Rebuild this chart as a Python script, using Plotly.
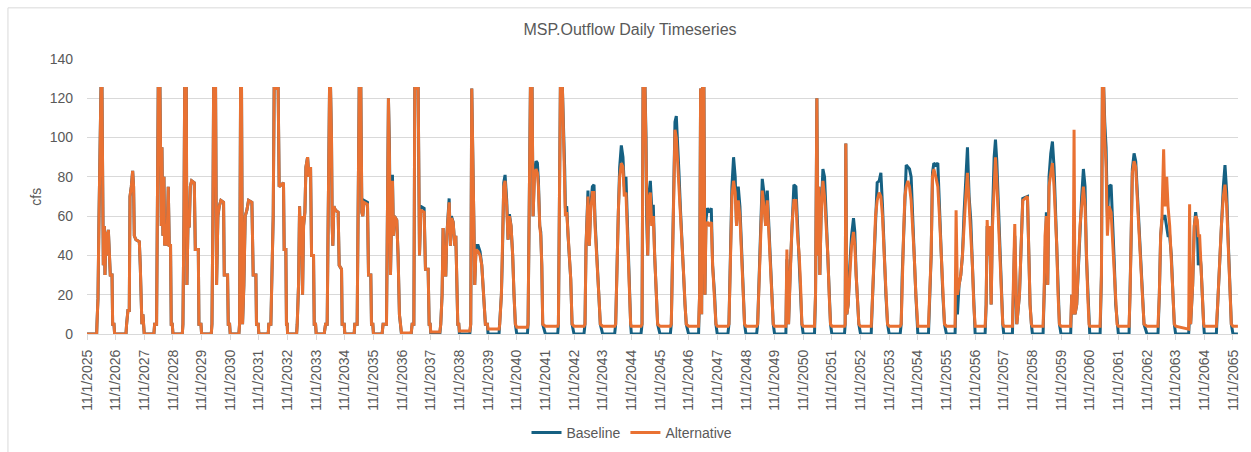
import pandas as pd
import plotly.graph_objects as go

# ---------------- text ----------------
title_text = "MSP.Outflow Daily Timeseries"
y_title = "cfs"
series_names = ["Baseline", "Alternative"]
series_colors = ["#156082", "#E97132"]

# ---------------- axes ----------------
tick_years = list(range(2025, 2066))
tick_labels = [f"11/1/{y}" for y in tick_years]
y_ticks = [0, 20, 40, 60, 80, 100, 120, 140]

# water year start (Nov 1 of this year); keypoints are days after Nov 1
water_year_start = list(range(2025, 2066))

kp_days = [
    [0, 123, 127, 140, 153, 166, 178, 191, 200, 208, 221, 229, 242, 255, 272, 285, 297, 319, 327, 344, 352],
    [0, 132, 140, 157, 174, 183, 200, 217, 229, 238, 259, 302, 314, 327, 335, 348, 357],
    [0, 123, 132, 157, 170, 178, 200, 208, 217, 225, 238, 251, 259, 276, 289, 306, 319, 335, 344, 357],
    [0, 119, 127, 140, 149, 170, 178, 191, 208, 221, 238, 272, 285, 323, 331, 357],
    [0, 123, 132, 144, 153, 178, 191, 208, 225, 246, 280, 289, 331, 340, 357],
    [0, 110, 119, 132, 144, 157, 174, 191, 212, 234, 276, 293, 327, 335, 357],
    [0, 119, 127, 153, 166, 183, 195, 246, 259, 314, 323, 344, 352, 362],
    [0, 115, 123, 140, 153, 166, 178, 191, 204, 221, 234, 255, 272, 293, 306, 331, 340, 357],
    [0, 102, 119, 140, 153, 170, 183, 195, 204, 212, 225, 246, 280, 293, 323, 331, 357],
    [0, 119, 127, 157, 170, 183, 204, 217, 229, 246, 289, 302, 331, 340, 357],
    [0, 110, 123, 166, 178, 191, 204, 217, 229, 242, 255, 268, 297, 314, 331, 340, 357],
    [0, 115, 127, 149, 161, 204, 221, 238, 280, 297, 331, 344, 357],
    [0, 115, 127, 144, 157, 170, 191, 204, 221, 234, 251, 263, 285, 306, 319, 331, 344, 357],
    [0, 132, 144, 157, 170, 183, 195, 212, 238, 263, 285, 310, 331, 357],
    [0, 140, 149, 170, 183, 200, 217, 238, 255, 272, 293, 314, 331, 348],
    [0, 136, 144, 161, 174, 195, 208, 225, 246, 263, 276, 293, 306, 319, 331],
    [0, 157, 166, 178, 191, 217, 234, 246, 255, 272, 289, 306, 323, 340],
    [0, 127, 140, 153, 166, 178, 195, 212, 234, 255, 268, 285, 302, 319, 335],
    [0, 153, 166, 183, 200, 217, 238, 259, 276, 297, 314, 331, 344, 357],
    [0, 123, 136, 149, 174, 187, 195, 208, 221, 242, 259, 280, 297, 319, 335],
    [0, 132, 144, 161, 174, 191, 208, 225, 242, 259, 280, 302, 319, 335],
    [0, 127, 140, 153, 166, 178, 195, 208, 221, 238, 263, 289, 306, 331, 348],
    [0, 136, 149, 170, 187, 208, 229, 246, 268, 289, 310, 331, 348],
    [0, 136, 149, 170, 191, 208, 229, 251, 272, 293, 314, 331, 348],
    [0, 144, 157, 178, 200, 221, 246, 272, 293, 314, 331, 348],
    [0, 144, 157, 174, 187, 200, 212, 229, 251, 272, 293, 314, 331, 348],
    [0, 161, 170, 178, 191, 208, 229, 251, 276, 293, 310, 327, 344],
    [0, 136, 149, 170, 191, 212, 238, 259, 280, 302, 323, 344],
    [0, 140, 153, 166, 183, 200, 217, 238, 259, 280, 297, 319, 340, 357],
    [0, 136, 149, 170, 187, 204, 229, 255, 276, 297, 319, 340],
    [0, 110, 123, 140, 161, 183, 204, 225, 246, 268, 289, 310, 331, 348, 361],
    [0, 127, 140, 153, 170, 187, 204, 221, 242, 259, 276, 297, 319, 335, 352],
    [0, 110, 140, 166, 200, 221, 242, 302, 319, 335, 352],
    [0, 136, 149, 161, 178, 195, 212, 234, 255, 276, 293, 310, 327, 344],
    [0, 123, 136, 153, 166, 178, 200, 221, 242, 263, 285, 306, 323, 340, 357],
    [0, 132, 149, 161, 178, 191, 208, 225, 246, 272, 293, 314, 331, 348],
    [0, 136, 149, 161, 178, 200, 221, 242, 263, 285, 306, 327],
    [0, 140, 157, 174, 191, 212, 229, 251, 268, 289, 310, 331, 348],
    [0, 166, 178, 191, 217, 238, 255, 276, 289, 306, 323, 340, 357],
    [0, 153, 170, 191, 217, 242, 263, 285, 302, 323, 344],
    [0, 63],
]

baseline_cfs = [
    [0, 0, 5, 18, 60, 100, 125, 125, 55, 35, 55, 30, 52, 40, 53, 42, 30, 30, 5, 5, 0],
    [0, 0, 5, 12, 12, 70, 75, 83, 75, 50, 48, 47, 35, 10, 5, 10, 0],
    [0, 0, 5, 5, 60, 125, 125, 100, 55, 95, 50, 80, 45, 55, 45, 75, 45, 45, 5, 5],
    [0, 0, 5, 60, 125, 125, 25, 55, 55, 75, 78, 77, 43, 43, 5, 5],
    [0, 0, 5, 60, 125, 125, 25, 60, 65, 68, 67, 30, 30, 5, 5],
    [0, 0, 5, 125, 125, 5, 25, 60, 63, 68, 67, 30, 30, 5, 5],
    [0, 0, 5, 5, 30, 60, 125, 125, 75, 77, 43, 43, 5, 5],
    [0, 0, 5, 25, 65, 40, 60, 20, 55, 62, 85, 90, 80, 85, 40, 40, 5, 5],
    [0, 0, 5, 5, 60, 125, 125, 100, 55, 45, 65, 63, 62, 35, 33, 5, 5],
    [0, 0, 5, 5, 95, 125, 125, 62, 60, 68, 67, 30, 30, 5, 5],
    [0, 0, 5, 5, 45, 120, 95, 30, 55, 81, 50, 60, 58, 40, 10, 5, 0],
    [0, 0, 5, 5, 125, 125, 40, 65, 64, 33, 33, 5, 5],
    [0, 0, 5, 20, 54, 30, 30, 50, 60, 69, 45, 60, 57, 45, 50, 30, 5, 5],
    [0, 0, 5, 125, 100, 60, 25, 45, 45, 42, 35, 20, 5, 5],
    [0, 0, 5, 20, 40, 77, 81, 68, 48, 61, 55, 40, 20, 5],
    [0, 0, 5, 60, 125, 125, 60, 82, 88, 87, 78, 55, 52, 35, 5],
    [0, 0, 5, 60, 125, 125, 105, 84, 64, 65, 50, 40, 28, 5],
    [0, 0, 5, 45, 62, 73, 45, 65, 75, 76, 58, 45, 30, 18, 5],
    [0, 0, 5, 40, 62, 85, 96, 90, 75, 80, 55, 35, 15, 5],
    [0, 0, 5, 125, 125, 100, 60, 40, 70, 78, 65, 65, 40, 22, 5],
    [0, 0, 5, 40, 80, 108, 111, 92, 82, 65, 45, 30, 15, 5],
    [0, 0, 20, 125, 10, 125, 125, 20, 58, 64, 62, 64, 35, 20, 5],
    [0, 0, 5, 40, 75, 90, 80, 55, 75, 65, 40, 20, 5],
    [0, 0, 5, 30, 60, 79, 72, 55, 73, 55, 35, 20, 5],
    [0, 0, 38, 5, 33, 55, 76, 75, 55, 40, 25, 5],
    [0, 0, 20, 120, 40, 75, 30, 62, 84, 80, 60, 40, 20, 5],
    [0, 0, 5, 97, 10, 15, 35, 50, 59, 52, 30, 15, 5],
    [0, 0, 15, 35, 62, 77, 78, 82, 65, 40, 20, 5],
    [0, 0, 5, 30, 50, 72, 86, 85, 84, 80, 58, 40, 20, 5],
    [0, 0, 15, 40, 82, 87, 86, 87, 65, 40, 20, 5],
    [0, 0, 20, 10, 25, 30, 40, 62, 78, 95, 70, 58, 35, 15, 5],
    [0, 0, 15, 55, 40, 55, 15, 60, 90, 99, 88, 65, 40, 20, 5],
    [0, 0, 50, 5, 20, 45, 69, 70, 35, 15, 5],
    [0, 0, 20, 50, 62, 25, 80, 92, 98, 85, 62, 45, 20, 5],
    [0, 0, 20, 10, 30, 10, 15, 35, 58, 70, 84, 75, 40, 20, 5],
    [0, 0, 30, 125, 125, 108, 95, 60, 75, 76, 50, 35, 15, 5],
    [0, 0, 20, 45, 84, 92, 88, 72, 50, 35, 20, 5],
    [0, 0, 20, 50, 58, 60, 60, 55, 50, 50, 40, 20, 5],
    [0, 0, 10, 5, 25, 55, 62, 55, 35, 42, 35, 15, 5],
    [0, 0, 15, 35, 55, 75, 86, 72, 50, 30, 5],
    [0, 0],
]

alternative_cfs = [
    [0, 0, 5, 18, 60, 100, 125, 125, 55, 35, 55, 30, 52, 40, 53, 42, 30, 30, 5, 5, 0],
    [0, 0, 5, 12, 12, 70, 75, 83, 75, 50, 48, 47, 35, 10, 5, 10, 0],
    [0, 0, 5, 5, 60, 125, 125, 100, 55, 95, 50, 80, 45, 55, 45, 75, 45, 45, 5, 5],
    [0, 0, 5, 60, 125, 125, 25, 55, 55, 75, 78, 77, 43, 43, 5, 5],
    [0, 0, 5, 60, 125, 125, 25, 60, 65, 68, 67, 30, 30, 5, 5],
    [0, 0, 5, 125, 125, 5, 25, 60, 63, 68, 67, 30, 30, 5, 5],
    [0, 0, 5, 5, 30, 60, 125, 125, 75, 77, 43, 43, 5, 5],
    [0, 0, 5, 25, 65, 40, 60, 20, 55, 62, 85, 90, 80, 85, 40, 40, 5, 5],
    [0, 0, 5, 5, 60, 125, 125, 100, 55, 45, 65, 63, 62, 35, 33, 5, 5],
    [0, 0, 5, 5, 95, 125, 125, 62, 60, 67, 66, 30, 30, 5, 5],
    [0, 0, 5, 5, 45, 120, 90, 30, 55, 78, 50, 60, 58, 40, 10, 5, 0.5],
    [0.5, 0.5, 5, 5, 125, 125, 40, 63, 62, 33, 33, 5, 5],
    [1, 1, 5, 20, 54, 30, 30, 50, 60, 67, 45, 59, 57, 45, 50, 30, 5, 5],
    [1.5, 1.5, 5, 125, 100, 60, 25, 43, 42, 40, 35, 20, 5, 5],
    [2.5, 2.5, 5, 20, 40, 75, 78, 65, 48, 60, 55, 40, 20, 5],
    [3.5, 3.5, 5, 60, 125, 125, 60, 80, 84, 82, 75, 55, 50, 35, 5],
    [4, 4, 5, 60, 125, 125, 100, 80, 60, 62, 50, 40, 28, 5],
    [4, 4, 5, 45, 62, 70, 45, 62, 72, 72, 55, 45, 30, 18, 5],
    [4, 4, 5, 40, 62, 80, 87, 85, 70, 72, 50, 35, 15, 5],
    [4, 4, 5, 125, 125, 95, 60, 40, 68, 72, 55, 60, 40, 22, 5],
    [4, 4, 5, 40, 80, 104, 100, 88, 78, 60, 45, 30, 15, 5],
    [4, 4, 20, 125, 10, 125, 125, 20, 55, 57, 55, 57, 35, 20, 5],
    [4, 4, 5, 40, 70, 78, 72, 55, 68, 60, 40, 20, 5],
    [4, 4, 5, 30, 60, 73, 65, 55, 68, 50, 35, 20, 5],
    [4, 4, 43, 5, 30, 55, 68, 68, 50, 40, 25, 5],
    [4, 4, 20, 120, 40, 75, 30, 62, 78, 70, 55, 40, 20, 5],
    [4, 4, 5, 97, 10, 15, 30, 45, 52, 45, 30, 15, 5],
    [4, 4, 15, 35, 60, 68, 72, 70, 60, 40, 20, 5],
    [4, 4, 5, 30, 50, 70, 75, 78, 75, 68, 58, 40, 20, 5],
    [4, 4, 15, 40, 80, 84, 80, 75, 60, 40, 20, 5],
    [4, 4, 63, 20, 25, 30, 40, 58, 70, 82, 65, 55, 35, 15, 5],
    [4, 4, 15, 58, 40, 55, 15, 55, 80, 90, 78, 60, 40, 20, 5],
    [4, 4, 56, 5, 20, 45, 68, 70, 35, 15, 5],
    [4, 4, 20, 50, 60, 25, 75, 82, 87, 75, 62, 45, 20, 5],
    [4, 4, 20, 10, 104, 10, 15, 35, 55, 65, 75, 65, 40, 20, 5],
    [4, 4, 30, 125, 125, 100, 85, 50, 65, 62, 45, 35, 15, 5],
    [4, 4, 20, 45, 82, 88, 85, 68, 50, 35, 20, 5],
    [4, 4, 20, 50, 60, 94, 65, 80, 65, 55, 40, 20, 5],
    [4, 2.5, 66, 5, 25, 55, 60, 58, 50, 50, 35, 15, 5],
    [4, 4, 15, 35, 55, 70, 76, 65, 45, 20, 5],
    [4, 4],
]


def build_series(values):
    xs, ys = [], []
    for wy, days, vals in zip(water_year_start, kp_days, values, strict=True):
        if len(days) != len(vals):
            raise ValueError(f"length mismatch in water year {wy}: {len(days)} vs {len(vals)}")
        start = pd.Timestamp(year=wy, month=11, day=1)
        xs.extend(start + pd.Timedelta(days=d) for d in days)
        ys.extend(vals)
    return xs, ys


W, H = 1251, 452
PL, PR, PT, PB = 86.6, 1238.3, 58.7, 334.0   # plot area in px
pw, ph = PR - PL, PB - PT


def px_x(px):
    return (px - PL) / pw


def px_y(py):
    return (PB - py) / ph


fig = go.Figure()
for name, color, vals in zip(series_names, series_colors, [baseline_cfs, alternative_cfs]):
    xs, ys = build_series(vals)
    fig.add_trace(go.Scatter(x=xs, y=ys, name=name, mode="lines",
                             line=dict(color=color, width=3), hoverinfo="skip"))

font_family = "Liberation Sans, Arial, sans-serif"
gray = "#595959"

fig.update_layout(
    width=W, height=H,
    margin=dict(l=PL, r=W - PR, t=PT, b=H - PB, pad=0, autoexpand=False),
    paper_bgcolor="white", plot_bgcolor="white",
    font=dict(family=font_family, color=gray, size=14),
    title=dict(text=title_text, x=630 / W, xanchor="center", xref="container",
               y=1 - 29 / H, yanchor="middle", yref="container",
               font=dict(size=16, color=gray, family=font_family)),
    showlegend=True,
    legend=dict(orientation="h", xref="container", yref="container",
                x=632 / W, xanchor="center", y=1 - 433 / H, yanchor="middle",
                font=dict(size=14, color=gray), bgcolor="rgba(0,0,0,0)", itemwidth=30,
                tracegroupgap=0),
    xaxis=dict(type="date", range=["2025-11-01", "2066-01-04"],
               tickvals=[pd.Timestamp(year=y, month=11, day=1) for y in tick_years],
               ticktext=tick_labels, tickangle=-90, showgrid=False,
               showline=True, linecolor="#d9d9d9", linewidth=1,
               ticks="outside", ticklen=5, tickcolor="#d9d9d9", automargin=False,
               tickfont=dict(size=14, color=gray), ticklabelstandoff=4, zeroline=False),
    yaxis=dict(range=[0, 140], tickvals=y_ticks, showgrid=True, gridcolor="#d9d9d9", gridwidth=1,
               zeroline=False, showline=False, ticks="", ticklabelstandoff=13, automargin=False,
               tickfont=dict(size=14, color=gray)),
    annotations=[dict(text=y_title, xref="paper", yref="paper", x=px_x(34.7), y=0.5,
                      textangle=-90, showarrow=False, xanchor="center", yanchor="middle",
                      font=dict(size=14, color=gray))],
    shapes=[dict(type="rect", xref="paper", yref="paper",
                 x0=px_x(7.5), x1=px_x(1270), y0=px_y(470), y1=px_y(7.5),
                 line=dict(color="#d9d9d9", width=1), fillcolor="rgba(0,0,0,0)", layer="below")],
)

fig.write_html("out.html", config={"displayModeBar": False},
               post_script="document.body.style.margin='0px';")
